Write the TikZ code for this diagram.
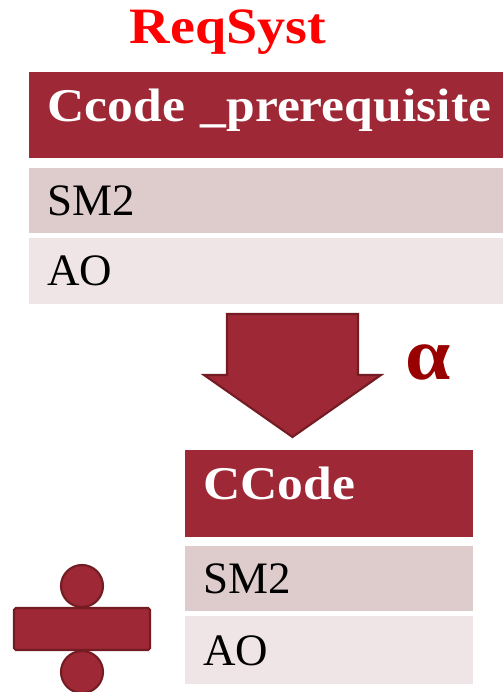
\documentclass[tikz,border=0pt]{standalone}
\usepackage{fontspec}
\setmainfont{Liberation Serif}[BoldFeatures={FakeStretch=1.1}]
\usetikzlibrary{positioning, shapes.geometric, arrows.meta, calc}

\definecolor{crimson}{RGB}{158,40,53}
\definecolor{crimsonedge}{RGB}{115,28,36}
\definecolor{rowdark}{RGB}{222,204,205}
\definecolor{rowlight}{RGB}{239,229,230}
\definecolor{alphared}{RGB}{153,0,0}

\begin{document}
\begin{tikzpicture}[
    % Styles
    header/.style={ % Table title bar
        rectangle,
        anchor=north west,
        fill=crimson,
        text=white,
        align=left,
        inner ysep=0pt,
        inner xsep=0.36cm,
        text height=0.98cm,
        text depth=0.74cm,
        font=\fontsize{26.7pt}{30pt}\selectfont\bfseries
    },
    row/.style={ % Table entry
        rectangle,
        anchor=north west,
        align=left,
        inner ysep=0pt,
        inner xsep=0.36cm,
        text height=0.94cm,
        text depth=0.36cm,
        font=\fontsize{25.6pt}{29pt}\selectfont
    },
    redpart/.style={ % Arrow and division sign parts
        draw=crimsonedge,
        fill=crimson,
        line width=1.2pt,
        inner sep=0pt
    }
]
    \useasboundingbox (0,0) rectangle (10.04,-13.84);

    % Title
    \node[text=red, anchor=base, font=\fontsize{29pt}{32pt}\selectfont\bfseries] (title) at (4.56,-0.88) {ReqSyst};

    % Source table
    \node[header, text width=9.6cm] (hdrA) at (0.58,-1.44) {Ccode \_prerequisite};
    \node[row, fill=rowdark, text width=9.6cm, below=0.18cm of hdrA.south west, anchor=north west] (smA) {SM2};
    \node[row, fill=rowlight, text width=9.6cm, text height=0.96cm, below=0.08cm of smA.south west, anchor=north west] (aoA) {AO};

    % Block arrow
    \draw[redpart] (4.54,-6.28) -- (7.16,-6.28) -- (7.16,-7.50) -- (7.62,-7.50)
        -- (5.85,-8.74) -- (4.08,-7.50) -- (4.54,-7.50) -- cycle;
    \node[text=alphared, font=\fontsize{42pt}{46pt}\selectfont\bfseries] (alpha) at (8.56,-7.24) {α};

    % Target table
    \node[header, text width=5.04cm, text depth=0.76cm] (hdrB) at (3.70,-9.00) {CCode};
    \node[row, fill=rowdark, text width=5.04cm, below=0.16cm of hdrB.south west, anchor=north west] (smB) {SM2};
    \node[row, fill=rowlight, text width=5.04cm, text height=1.00cm, below=0.08cm of smB.south west, anchor=north west] (aoB) {AO};

    % Division sign
    \node[redpart, circle, minimum size=0.84cm] (dotT) at (1.64,-11.72) {};
    \node[redpart, rectangle, rounded corners=1pt, minimum width=2.72cm, minimum height=0.84cm] (bar) at (1.64,-12.58) {};
    \node[redpart, circle, minimum size=0.84cm] (dotB) at (1.64,-13.44) {};
\end{tikzpicture}
\end{document}
